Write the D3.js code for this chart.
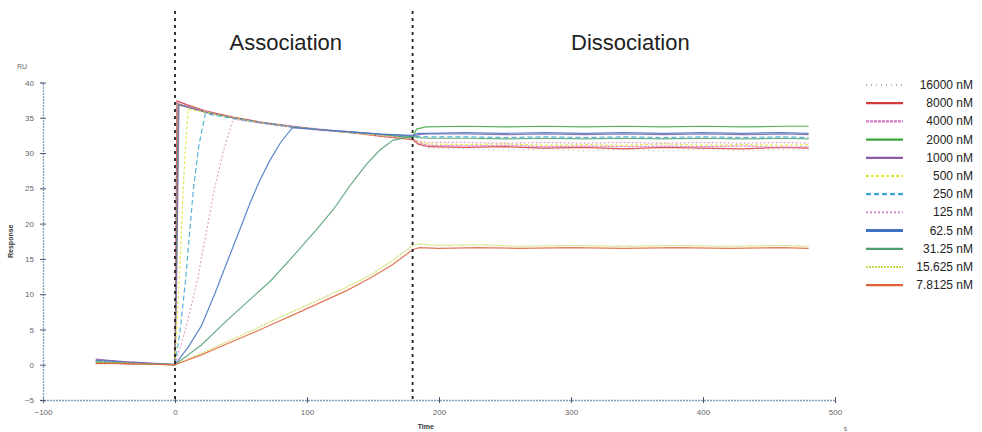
<!DOCTYPE html>
<html>
<head>
<meta charset="utf-8">
<script src="https://cdn.jsdelivr.net/npm/d3@7"></script>
<style>
  html, body { margin: 0; padding: 0; background: #fff; }
  svg { display: block; font-family: "Liberation Sans", Arial, sans-serif; }
</style>
</head>
<body>
<main></main>
<script>
// tick labels
const xTicks = [-100, 0, 100, 200, 300, 400, 500];
const yTicks = [-5, 0, 5, 10, 15, 20, 25, 30, 35, 40];
const phaseLabels = ["Association", "Dissociation"];
const phaseEdges = [0, 180];

// concentrations (legend order)
const concLabels = ["16000 nM", "8000 nM", "4000 nM", "2000 nM", "1000 nM", "500 nM",
                    "250 nM", "125 nM", "62.5 nM", "31.25 nM", "15.625 nM", "7.8125 nM"];
const concColors = ["#b5b5b5", "#d23a3a", "#d77ac8", "#3aa43a", "#8a5aa8", "#e3e33a",
                    "#3aa6d4", "#d895c8", "#3f72c2", "#4e9e6e", "#c8d84a", "#e0603a"];
const concDash = ["1,4", null, "3,1", null, null, "3,2", "5,3", "2,2", null, null, "2,1", null];

// sensorgrams, [time s, response RU]
const s16000 = [[-60,0.6],[-48,0.45],[-36,0.3],[-24,0.2],[-12,0.1],[0,0],[0.5,19],[1,37.2],[10,36.7],[23,35.9],[44,35.0],[65,34.3],[89,33.7],[110,33.3],[133,32.9],[155,32.5],[180,32.0],
  [184,31.2],[192,30.7],[220,30.6],[250,30.4],[280,30.6],[310,30.3],[340,30.5],[370,30.3],[400,30.5],[430,30.3],[460,30.5],[480,30.4]];
const s8000 = [[-60,0.2],[-48,0.25],[-36,0.1],[-24,0.15],[-12,0.05],[0,0],[0.8,20],[1.5,37.4],[10,36.8],[23,36.0],[44,35.1],[65,34.4],[89,33.8],[110,33.3],[133,32.9],[155,32.4],[180,31.9],
  [184,31.3],[192,30.9],[220,30.8],[250,30.9],[280,30.7],[310,30.8],[340,30.6],[370,30.8],[400,30.7],[430,30.6],[460,30.8],[480,30.7]];
const s4000 = [[-60,0.7],[-48,0.5],[-36,0.4],[-24,0.25],[-12,0.1],[0,0],[1,18],[2,37.1],[10,36.6],[23,35.9],[44,35.0],[65,34.3],[89,33.8],[110,33.4],[133,33.0],[155,32.6],[180,32.1],
  [184,31.5],[192,31.1],[220,31.0],[250,31.1],[280,30.9],[310,31.0],[340,30.9],[370,31.0],[400,30.9],[430,31.0],[460,30.8],[480,30.9]];
const s2000 = [[-60,0.4],[-48,0.3],[-36,0.35],[-24,0.2],[-12,0.1],[0,0],[1.2,16],[2.5,36.9],[10,36.5],[23,35.8],[44,35.0],[65,34.3],[89,33.7],[110,33.3],[133,32.9],[155,32.6],[180,32.2],
  [183,33.4],[190,33.7],[220,33.8],[250,33.7],[280,33.8],[310,33.7],[340,33.8],[370,33.7],[400,33.8],[430,33.7],[460,33.8],[480,33.8]];
const s1000 = [[-60,0.8],[-48,0.6],[-36,0.4],[-24,0.3],[-12,0.15],[0,0],[1.5,15],[3,36.8],[10,36.5],[23,35.8],[44,35.0],[65,34.3],[89,33.7],[110,33.3],[133,33.0],[155,32.7],[180,32.4],
  [184,32.6],[192,32.7],[220,32.7],[250,32.6],[280,32.7],[310,32.6],[340,32.7],[370,32.6],[400,32.7],[430,32.6],[460,32.7],[480,32.6]];
const s500 = [[-60,0.3],[-48,0.2],[-36,0.2],[-24,0.1],[-12,0.05],[0,0],[2,8],[4,15],[6,24],[8,31],[10,36.2],[23,35.8],[44,35.0],[65,34.3],[89,33.7],[110,33.3],[133,32.9],[155,32.5],[180,32.0],
  [184,31.6],[192,31.3],[220,31.2],[250,31.3],[280,31.1],[310,31.2],[340,31.1],[370,31.3],[400,31.1],[430,31.2],[460,31.1],[480,31.2]];
const s250 = [[-60,0.5],[-48,0.4],[-36,0.3],[-24,0.2],[-12,0.1],[0,0],[4,5],[8,12],[11,18.5],[14,25],[18,31],[23,35.6],[44,34.9],[65,34.3],[89,33.7],[110,33.3],[133,33.0],[155,32.7],[180,32.3],
  [184,32.4],[192,32.3],[220,32.3],[250,32.2],[280,32.3],[310,32.2],[340,32.3],[370,32.2],[400,32.3],[430,32.2],[460,32.3],[480,32.2]];
const s125 = [[-60,0.1],[-48,0.15],[-36,0.1],[-24,0.05],[-12,0.05],[0,0],[8,5],[17,12],[24,19],[30,25],[37,30.5],[44,34.8],[65,34.2],[89,33.6],[110,33.2],[133,32.9],[155,32.5],[180,32.0],
  [184,31.7],[192,31.5],[220,31.5],[250,31.4],[280,31.5],[310,31.4],[340,31.5],[370,31.4],[400,31.5],[430,31.4],[460,31.5],[480,31.4]];
const s62 = [[-60,0.6],[-48,0.5],[-36,0.3],[-24,0.2],[-12,0.1],[0,0],[10,2.5],[20,5.5],[30,10],[40,14.8],[49,19.1],[57,23],[64,26],[72,29],[80,31.5],[89,33.6],[110,33.3],[133,33.0],[155,32.7],[180,32.5],
  [184,32.8],[192,32.8],[220,32.9],[250,32.8],[280,32.9],[310,32.8],[340,32.9],[370,32.8],[400,32.9],[430,32.8],[460,32.9],[480,32.8]];
const s31 = [[-60,0.3],[-48,0.25],[-36,0.2],[-24,0.1],[-12,0.05],[0,0],[20,2.8],[40,6.4],[60,9.8],[72,11.8],[90,15.5],[107,19.1],[120,22],[133,25.5],[145,28.4],[155,30.4],[165,31.8],[180,32.4],
  [184,32.2],[192,32.1],[220,32.1],[250,32.0],[280,32.1],[310,32.0],[340,32.1],[370,32.0],[400,32.1],[430,32.0],[460,32.1],[480,32.0]];
const s15 = [[-60,0.4],[-48,0.3],[-36,0.25],[-24,0.15],[-12,0.05],[0,0],[20,1.6],[40,3.3],[60,5.0],[72,6.1],[90,7.6],[110,9.3],[130,11.0],[148,12.7],[165,14.8],[180,16.9],
  [185,17.1],[200,16.9],[230,17.0],[260,16.8],[300,16.9],[340,16.8],[380,16.9],[420,16.8],[460,16.9],[480,16.8]];
const s7 = [[-60,0.2],[-48,0.2],[-36,0.15],[-24,0.1],[-12,0.05],[0,0],[20,1.4],[40,3.0],[60,4.6],[72,5.6],[90,7.1],[110,8.8],[130,10.5],[148,12.3],[165,14.2],[180,16.3],
  [185,16.6],[200,16.5],[230,16.6],[260,16.5],[300,16.6],[340,16.5],[380,16.6],[420,16.5],[460,16.6],[480,16.5]];

const allSeries = [s16000, s8000, s4000, s2000, s1000, s500, s250, s125, s62, s31, s15, s7];

const showGraph = () => {
    const WIDTH = 982, HEIGHT = 432;
    const svg = d3.select("main").append("svg")
        .attr("width", WIDTH)
        .attr("height", HEIGHT);

    const xScale = d3.scaleLinear().domain([-100, 500]).range([43, 835]);
    const yScale = d3.scaleLinear().domain([-5, 40]).range([400, 82.5]);

    // axes
    const xAxis = d3.axisBottom(xScale).tickValues(xTicks).tickSize(3).tickPadding(6);
    const yAxis = d3.axisLeft(yScale).tickValues(yTicks).tickSize(3).tickPadding(6);

    const gx = svg.append("g")
        .attr("transform", `translate(0, ${yScale(-5)})`)
        .call(xAxis);
    const gy = svg.append("g")
        .attr("transform", `translate(${xScale(-100)}, 0)`)
        .call(yAxis);

    [gx, gy].forEach(g => {
        g.select(".domain").attr("stroke", "#7f9cb4").attr("stroke-dasharray", "2,1").attr("stroke-width", 1.3);
        g.selectAll(".tick line").attr("stroke", "#557");
        g.selectAll(".tick text").attr("fill", "#666").style("font-size", "8px");
    });
    gy.selectAll(".tick line").attr("x2", 3).attr("x1", -3);
    gx.selectAll(".tick line").attr("y1", -3).attr("y2", 3);

    svg.append("text").attr("x", 22).attr("y", 69)
        .attr("text-anchor", "middle").attr("fill", "#666")
        .style("font-size", "7px").text("RU");
    svg.append("text")
        .attr("transform", `translate(13, ${yScale(17.5)}) rotate(-90)`)
        .attr("text-anchor", "middle").attr("fill", "#333")
        .style("font-size", "7px").style("font-weight", "bold").text("Response");
    svg.append("text").attr("x", xScale(190)).attr("y", 429)
        .attr("text-anchor", "middle").attr("fill", "#333")
        .style("font-size", "7px").style("font-weight", "bold").text("Time");
    svg.append("text").attr("x", xScale(508)).attr("y", 431)
        .attr("text-anchor", "middle").attr("fill", "#666")
        .style("font-size", "7px").text("s");

    // curves
    const line = d3.line()
        .x(d => xScale(d[0]))
        .y(d => yScale(d[1]));

    allSeries.forEach((s, i) => {
        svg.append("path")
            .datum(s)
            .attr("fill", "none")
            .attr("stroke", concColors[i])
            .attr("stroke-width", 1.2)
            .attr("stroke-opacity", 0.85)
            .attr("stroke-dasharray", concDash[i])
            .attr("d", line);
    });

    // phase separators
    svg.selectAll(".phase")
        .data(phaseEdges)
        .join("line")
        .attr("x1", d => xScale(d)).attr("x2", d => xScale(d))
        .attr("y1", 11).attr("y2", yScale(-5))
        .attr("stroke", "#222")
        .attr("stroke-width", 1.8)
        .attr("stroke-dasharray", "3,4");

    const phaseCenters = [(xScale(0) + xScale(180)) / 2 - 8, xScale(345)];
    svg.selectAll(".phase-label")
        .data(phaseLabels)
        .join("text")
        .attr("x", (d, i) => phaseCenters[i])
        .attr("y", 50)
        .attr("text-anchor", "middle")
        .attr("fill", "#222")
        .style("font-size", "22px")
        .text(d => d);

    // legend
    const legend = svg.append("g");
    concLabels.forEach((label, i) => {
        const y = 85 + i * 18.2;
        legend.append("line")
            .attr("x1", 866).attr("x2", 903)
            .attr("y1", y).attr("y2", y)
            .attr("stroke", concColors[i])
            .attr("stroke-width", i === 8 ? 3 : 2.2)
            .attr("stroke-dasharray", concDash[i]);
        legend.append("text")
            .attr("x", 973).attr("y", y + 4)
            .attr("text-anchor", "end")
            .attr("fill", "#222")
            .style("font-size", "12px")
            .text(label);
    });
};

document.addEventListener('DOMContentLoaded', showGraph);
</script>
</body>
</html>
